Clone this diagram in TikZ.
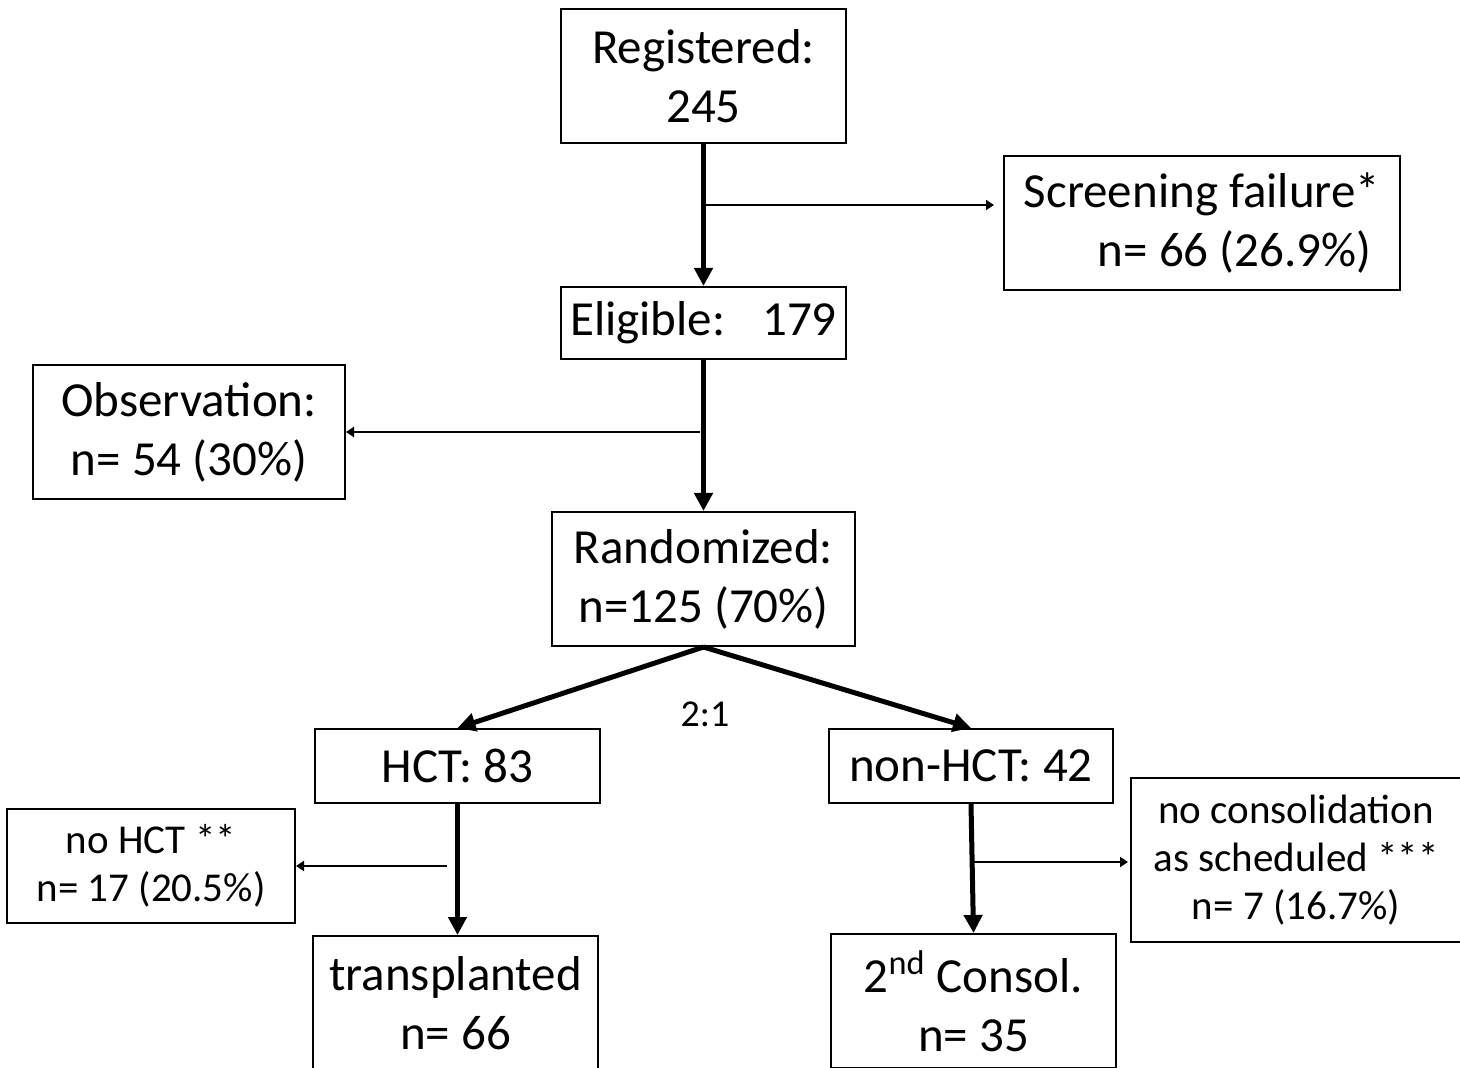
\documentclass[tikz,border=0pt]{standalone}
\usepackage{fontspec}
\setmainfont{Carlito}
\usetikzlibrary{arrows.meta,calc}
\newcommand{\bigtxt}{\fontsize{24.5}{29.5}\selectfont}
\newcommand{\smalltxt}{\fontsize{20.5}{24}\selectfont}
\begin{document}
\begin{tikzpicture}[x=0.5pt,y=-0.5pt,
  box/.style={draw,line width=1pt,align=center,inner sep=0pt,font=\bigtxt},
  sbox/.style={box,font=\smalltxt},
  main/.style={-{Triangle[length=9pt,width=9pt]},line width=2.5pt},
  side/.style={-{Triangle[length=4pt,width=5pt]},line width=1pt}]
\useasboundingbox (0,0) rectangle (1460,1068);
\node[box,minimum width=142.5pt,minimum height=67pt] (reg) at (703.5,76) {Registered:\\245};
\node[box,minimum width=198pt,minimum height=67pt,align=left] (scr) at (1202,223) {Screening failure*\\\hspace*{37pt}n= 66 (26.9\%)};
\node[box,minimum width=142.5pt,minimum height=36pt] (elig) at (703.5,323) {Eligible:\hspace{0.45em} 179};
\node[box,minimum width=156pt,minimum height=67pt] (obs) at (189,432) {Observation:\\n= 54 (30\%)};
\node[box,minimum width=151.5pt,minimum height=67pt] (rand) at (703.5,579) {Randomized:\\n=125 (70\%)};
\node[font=\fontsize{19}{22}\selectfont] (ratio) at (705,714) {2:1};
\node[box,minimum width=142.5pt,minimum height=37pt] (hct) at (457.5,766) {HCT: 83};
\node[box,minimum width=142pt,minimum height=37pt] (nonhct) at (971,766) {non-HCT: 42};
\node[sbox,minimum width=144pt,minimum height=57pt] (nohct) at (151,866) {no HCT **\\n= 17 (20.5\%)};
\node[sbox,minimum width=165pt,minimum height=82pt] (nocons) at (1296,860) {no consolidation\\as scheduled ***\\n= 7 (16.7\%)};
\node[box,minimum width=142.5pt,minimum height=67pt] (trans) at (455.5,1003) {transplanted\\n= 66};
\node[box,minimum width=142.5pt,minimum height=67pt] (cons) at (973.5,1001) {2\textsuperscript{nd} Consol.\\n= 35};
% branch points
\coordinate (s1) at (706,205);
\coordinate (o1) at (700,432);
\coordinate (h1) at (447,866);
\coordinate (c1) at (973,862);
\foreach \u/\v in {reg/elig,elig/rand,rand/hct,rand/nonhct,nonhct/cons}{\draw[main] (\u.south)--(\v.north);}
\draw[main] (hct.south)--(hct.south |- trans.north);
\draw[side,shorten >=4.5pt] (s1)--(s1 -| scr.west);
\draw[side] (o1)--(o1 -| obs.east);
\draw[side] (h1)--(h1 -| nohct.east);
\draw[side,shorten >=1pt] (c1)--(c1 -| nocons.west);
\end{tikzpicture}
\end{document}
